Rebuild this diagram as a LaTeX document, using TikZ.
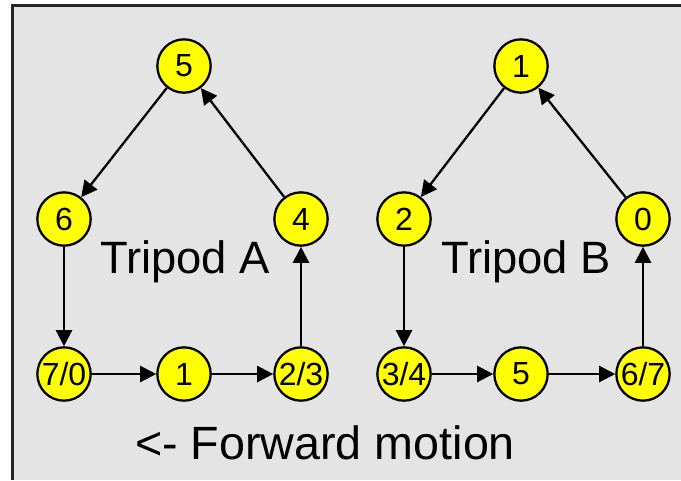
\documentclass[tikz,border=0pt]{standalone}
\usepackage{fontspec}
\setmainfont{Liberation Sans}
\usepackage{xcolor}
\usepackage{tikz}
\usetikzlibrary{arrows.meta}
\definecolor{panel}{HTML}{E4E4E4}
\definecolor{legfill}{HTML}{FFFF00}

\begin{document}
\begin{tikzpicture}[x=0.75pt,y=-0.75pt,
    phase/.style={circle,draw,line width=1.7pt,fill=legfill,inner sep=0pt,
      minimum size=40pt,font=\fontsize{24}{24}\selectfont},
    move/.style={line width=1.7pt,-{Triangle[length=12pt,width=12pt]}},
    big/.style={font=\fontsize{34}{34}\selectfont}]
    \useasboundingbox (0,0) rectangle (681,480);
    \fill[panel] (12,5) rectangle (681,480);
    \draw[line width=2.5pt,black!85] (12.5,480) -- (12.5,5.5) -- (681,5.5);
    % tripod A
    \node [phase] (a5) at (184,66)  {5};
    \node [phase] (a6) at (64,219)  {6};
    \node [phase] (a4) at (301,219) {4};
    \node [phase] (a70) at (64,374) {7/0};
    \node [phase] (a1) at (184,374) {1};
    \node [phase] (a23) at (301,374) {2/3};
    \node [big] (ta) at (185,262) {Tripod A};
    % tripod B
    \node [phase] (b1) at (521,66)  {1};
    \node [phase] (b2) at (404,219) {2};
    \node [phase] (b0) at (643,219) {0};
    \node [phase] (b34) at (404,374) {3/4};
    \node [phase] (b5) at (521,374) {5};
    \node [phase] (b67) at (643,374) {6/7};
    \node [big] (tb) at (526,262) {Tripod B};
    \node [big,font=\fontsize{35}{35}\selectfont] (fwd) at (325,443) {<- Forward motion};
    \draw [move] (a5) -- (a6);
    \draw [move] (a6) -- (a70);
    \draw [move] (a70) -- (a1);
    \draw [move] (a1) -- (a23);
    \draw [move] (a23) -- (a4);
    \draw [move] (a4) -- (a5);
    \draw [move] (b1) -- (b2);
    \draw [move] (b2) -- (b34);
    \draw [move] (b34) -- (b5);
    \draw [move] (b5) -- (b67);
    \draw [move] (b67) -- (b0);
    \draw [move] (b0) -- (b1);
\end{tikzpicture}
\end{document}
